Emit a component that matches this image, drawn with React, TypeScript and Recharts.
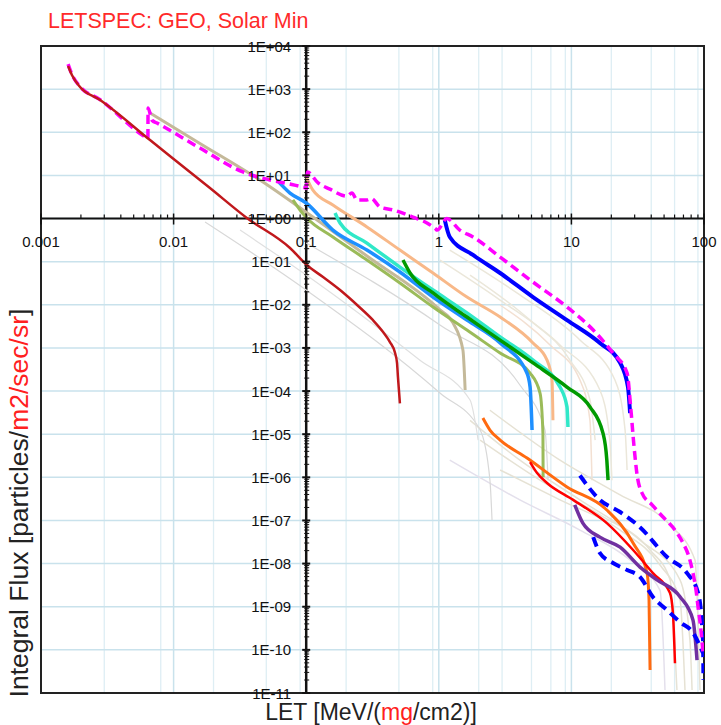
import React from 'react';
import { LineChart, Line, XAxis, YAxis, CartesianGrid, ReferenceLine, ReferenceDot, ReferenceArea } from 'recharts';

type P = [number, number];

const xMajor = [0.001, 0.01, 0.1, 1, 10, 100];
const xMajorLabels = ['0.001', '0.01', '0.1', '1', '10', '100'];
const yMajor = [1e4, 1e3, 1e2, 1e1, 1, 1e-1, 1e-2, 1e-3, 1e-4, 1e-5, 1e-6, 1e-7, 1e-8, 1e-9, 1e-10, 1e-11];
const yMajorLabels = ['1E+04', '1E+03', '1E+02', '1E+01', '1E+00', '1E-01', '1E-02', '1E-03', '1E-04', '1E-05', '1E-06', '1E-07', '1E-08', '1E-09', '1E-10', '1E-11'];
const minorMult = [2, 3, 4, 5, 6, 7, 8, 9];

const darkRed: P[] = [[0.0016, 3440], [0.00171, 2130], [0.00197, 1120], [0.00279, 560], [0.00664, 66], [0.0188, 5.1], [0.0357, 1.03], [0.0755, 0.207], [0.101, 0.0836], [0.134, 0.044], [0.18, 0.022], [0.242, 9.9e-3], [0.319, 4.4e-3], [0.38, 2.34e-3], [0.428, 1.37e-3], [0.468, 7.6e-4], [0.484, 4.5e-4], [0.492, 2.1e-4], [0.509, 5.2e-5]];
const magenta: P[] = [[0.0016, 3800], [0.00171, 2200], [0.00197, 1150], [0.00279, 570], [0.0062, 76], [0.0064, 72], [0.00642, 366], [0.00687, 190], [0.0075, 164], [0.0158, 43], [0.0333, 12], [0.0533, 7.8], [0.0755, 6.3], [0.093, 5.4], [0.099, 5.1], [0.1, 5.0], [0.102, 12], [0.123, 6.7], [0.151, 4.8], [0.203, 3.3], [0.221, 3.9], [0.242, 2.7], [0.287, 2.7], [0.31, 2.9], [0.36, 1.85], [0.452, 1.58], [0.638, 1.08], [0.814, 0.79], [0.95, 0.57], [0.97, 0.54], [1.15, 1.0], [1.44, 0.54], [1.81, 0.373], [2.9, 0.128], [5.13, 0.0337], [9.26, 8.9e-3], [14.6, 2.6e-3], [20.6, 7.6e-4], [26.3, 2.6e-4], [28.1, 3.7e-5], [29.6, 5.6e-6], [31.3, 1.13e-6], [34.1, 4.3e-7], [40.6, 2.3e-7], [49.1, 1.2e-7], [60.4, 6.0e-8], [69.5, 3.0e-8], [77.1, 1.42e-8], [82.6, 6.0e-9], [87.1, 2.4e-9], [90.2, 9.8e-10], [94.8, 2.9e-10], [98.2, 8.5e-11]];
const blue: P[] = [[1.11, 0.92], [1.21, 0.373], [1.81, 0.143], [2.9, 0.0546], [5.13, 0.0151], [9.26, 4.4e-3], [16.4, 1.3e-3], [23.3, 4.5e-4], [26.7, 1.24e-4], [27.7, 3.1e-5]];
const blueDashUpper: P[] = [[11.6, 1.1e-6], [16.4, 3.0e-7], [23.3, 1.57e-7], [32.9, 7.0e-8], [52.6, 1.42e-8], [74.5, 6.0e-9], [90.2, 2.1e-9], [98.2, 1.7e-10], [99, 2e-11]];
const blueDashLower: P[] = [[14.6, 4.1e-8], [16.4, 1.76e-8], [20.6, 1.03e-8], [26.3, 7.1e-9], [32.9, 4.9e-9], [41.2, 1.68e-9], [52.6, 8.4e-10], [65.9, 4.4e-10], [82.6, 2.5e-10], [98.2, 8.5e-11]];
const purple: P[] = [[10.6, 2.3e-7], [12.2, 8.7e-8], [16.4, 4.1e-8], [23.3, 2.4e-8], [32.9, 8.3e-9], [44.2, 4.2e-9], [65.9, 1.7e-9], [82.6, 4.9e-10], [88.6, 5.8e-11]];
const red: P[] = [[4.88, 2.26e-6], [5.51, 1.26e-6], [6.55, 7.4e-7], [10.3, 3.0e-7], [18.5, 8.7e-8], [29.2, 2.07e-8], [41.2, 6.0e-9], [55.3, 2.1e-9], [58.3, 7.1e-10], [60.4, 4.9e-11]];
const orange: P[] = [[2.15, 2.37e-5], [2.43, 1.25e-5], [2.9, 7.3e-6], [4.63, 2.8e-6], [9.26, 6.0e-7], [18.5, 1.75e-7], [29.2, 3.0e-8], [37.2, 6.0e-9], [38.5, 1.43e-9], [39.2, 3.4e-11]];
const green: P[] = [[0.537, 0.109], [0.607, 0.0546], [0.904, 0.0188], [1.63, 5.2e-3], [2.9, 1.52e-3], [5.13, 4.5e-4], [9.26, 1.24e-4], [13.8, 4.3e-5], [17.3, 1.06e-5], [18.5, 2.5e-6], [18.9, 8.6e-7]];
const cyan: P[] = [[0.165, 1.34], [0.18, 0.79], [0.287, 0.27], [0.509, 0.075], [0.904, 0.022], [1.63, 6.5e-3], [2.9, 1.8e-3], [5.13, 5.2e-4], [8.2, 1.24e-4], [9.26, 4.3e-5], [9.42, 1.47e-5]];
const dodger: P[] = [[0.0602, 7.8], [0.0755, 3.9], [0.1, 2.29], [0.159, 0.54], [0.287, 0.186], [0.509, 0.0575], [0.904, 0.0151], [1.63, 4.4e-3], [2.9, 1.3e-3], [4.63, 2.6e-4], [4.88, 1.24e-4], [5.05, 1.25e-5]];
const lightOrange: P[] = [[0.101, 8.7], [0.112, 4.6], [0.159, 2.06], [0.287, 0.64], [0.509, 0.186], [0.904, 0.0546], [1.63, 0.0151], [2.9, 5.2e-3], [5.13, 1.3e-3], [6.55, 5.2e-4], [7.14, 1.8e-4], [7.26, 2.1e-5]];
const olive: P[] = [[0.0794, 2.7], [0.0898, 1.58], [0.101, 1.03], [0.159, 0.373], [0.287, 0.109], [0.509, 0.032], [0.904, 8.9e-3], [1.63, 2.6e-3], [2.9, 7.6e-4], [4.88, 2.6e-4], [5.8, 9.0e-5], [6.1, 1.06e-5], [6.12, 1.0e-6]];
const tan: P[] = [[0.00664, 280], [0.0158, 55], [0.0472, 7.0], [0.1, 1.4], [0.287, 0.135], [1.02, 7.6e-3], [1.28, 3.8e-3], [1.52, 9.0e-4], [1.58, 1.06e-4]];

const faint1: P[] = [[1.02, 0.109], [2.9, 0.0129], [8.2, 1.17e-3], [16.4, 1.06e-4], [19.5, 7.3e-6], [20.2, 8.6e-7]];
const faint2: P[] = [[1.21, 0.186], [4.09, 0.0169], [11.6, 1.52e-3], [21.3, 1.8e-4], [25.4, 1.25e-5], [26.3, 1.48e-6]];
const faint3: P[] = [[1.72, 0.049], [4.88, 4.4e-3], [9.75, 5.2e-4], [13.8, 6.2e-5], [15.1, 7.3e-6]];
const faint4: P[] = [[2.9, 9.9e-3], [6.9, 1.17e-3], [11.6, 1.8e-4], [13.8, 2.1e-5], [14.3, 8.6e-7]];
const faint5: P[] = [[1.72, 2.1e-5], [4.09, 2.5e-6], [11.6, 3.0e-7], [32.9, 3.5e-8], [65.9, 4.2e-9], [78.3, 1.7e-10], [81.3, 1.17e-11]];
const faint6: P[] = [[2.05, 7.3e-6], [5.8, 8.6e-7], [16.4, 1.34e-7], [39.2, 2.07e-8], [55.5, 4.2e-9], [60.4, 9.9e-11], [62.5, 1.17e-11]];
const faint7: P[] = [[2.9, 1.48e-6], [8.2, 3.0e-7], [23.3, 6.0e-8], [46.6, 9.3e-9], [65.9, 1.43e-9], [71.9, 1.17e-11]];
const faint8: P[] = [[1.21, 2.5e-6], [4.09, 3.0e-7], [11.6, 6.0e-8], [27.7, 1.21e-8], [46.6, 2.4e-9], [50.8, 1.17e-11]];
const faint9: P[] = [[2.43, 3.6e-5], [8.2, 2.5e-6], [23.3, 3.9e-7], [55.5, 7.8e-8], [85.5, 1.21e-8], [93.3, 1.17e-11]];
const gray1: P[] = [[0.01726, 0.83], [0.1, 0.022], [1.02, 9.0e-5], [2.05, 1.25e-5], [2.43, 8.6e-7], [2.52, 1.02e-7]];
const gray2: P[] = [[0.1, 0.27], [1.02, 3.4e-3], [4.09, 1.38e-4], [6.32, 1.25e-5], [6.67, 8.6e-7]];
const gray3: P[] = [[0.0317, 0.54], [0.1, 0.049], [0.721, 5.2e-4], [1.72, 6.2e-5], [1.98, 7.3e-6]];

const toRows = (a: P[]) => a.map(([x, y]) => ({ x, y }));

const xMinor = xMajor.slice(0, -1).flatMap((d) => minorMult.map((m) => d * m));
const yMinor = yMajor.slice(1).flatMap((d) => minorMult.map((m) => d * m));

const AX = '#111';
const FONT = '"Liberation Sans", Arial, sans-serif';

const xMajorShape = (label: string) => (props: any) => {
  const { cx, cy } = props;
  return (
    <g>
      <line x1={cx} x2={cx} y1={cy - 5} y2={cy + 6} stroke={AX} strokeWidth={1.5} />
      <text x={cx} y={cy + 28} textAnchor="middle" fontSize={15} fill={AX} fontFamily={FONT}>{label}</text>
    </g>
  );
};
const xMinorShape = (props: any) => {
  const { cx, cy } = props;
  return <line x1={cx} x2={cx} y1={cy - 4} y2={cy} stroke={AX} strokeWidth={1.2} />;
};
const yMajorShape = (label: string) => (props: any) => {
  const { cx, cy } = props;
  return (
    <g>
      <line x1={cx - 4} x2={cx + 4} y1={cy} y2={cy} stroke={AX} strokeWidth={2} />
      <text x={cx - 15} y={cy + 5.5} textAnchor="end" fontSize={15} fill={AX} fontFamily={FONT}>{label}</text>
    </g>
  );
};
const yMinorShape = (props: any) => {
  const { cx, cy } = props;
  return <line x1={cx - 2} x2={cx + 3} y1={cy} y2={cy} stroke={AX} strokeWidth={1} />;
};

const series: { d: P[]; c: string; w: number; dash?: string }[] = [
  { d: faint1, c: '#ebe7da', w: 1.5 },
  { d: faint2, c: '#ebe7da', w: 1.5 },
  { d: faint3, c: '#ebe7da', w: 1.5 },
  { d: faint4, c: '#f3e0d2', w: 1.5 },
  { d: faint5, c: '#e6e2d4', w: 1.5 },
  { d: faint6, c: '#e6e2d4', w: 1.5 },
  { d: faint7, c: '#e6e2d4', w: 1.5 },
  { d: faint8, c: '#e4e0ec', w: 1.5 },
  { d: faint9, c: '#e6e2d4', w: 1.5 },
  { d: gray1, c: '#d8d8d8', w: 1.2 },
  { d: gray2, c: '#d8d8d8', w: 1.2 },
  { d: gray3, c: '#e0e0e0', w: 1.2 },
  { d: tan, c: '#c4b999', w: 3 },
  { d: olive, c: '#9bbb59', w: 3 },
  { d: lightOrange, c: '#f8b888', w: 3 },
  { d: dodger, c: '#1e90ff', w: 3.5 },
  { d: cyan, c: '#30e8c8', w: 3.5 },
  { d: green, c: '#009a00', w: 3.5 },
  { d: orange, c: '#ff6a10', w: 3 },
  { d: red, c: '#ff0000', w: 2.5 },
  { d: purple, c: '#7030a0', w: 3.5 },
  { d: blue, c: '#0000ff', w: 4 },
  { d: blueDashUpper, c: '#0000ff', w: 4, dash: '10 6' },
  { d: blueDashLower, c: '#0000ff', w: 4, dash: '10 6' },
  { d: magenta, c: '#ff00ff', w: 3.5, dash: '9 5' },
  { d: darkRed, c: '#c0181c', w: 2.5 },
];

export default function App() {
  return (
    <div style={{ position: 'absolute', left: 0, top: 0, width: 721, height: 725, background: '#fff' }}>
      <LineChart width={721} height={725} margin={{ top: 46, right: 17, bottom: 32, left: 41 }}>
        <XAxis type="number" dataKey="x" scale="log" domain={[0.001, 100]} allowDataOverflow hide />
        <YAxis type="number" dataKey="y" scale="log" domain={[1e-11, 1e4]} allowDataOverflow hide />
        <CartesianGrid horizontal={false} verticalValues={xMinor} stroke="#deeef4" strokeWidth={1.3} />
        <CartesianGrid verticalValues={xMajor} horizontalValues={yMajor} stroke="#c9e2ec" strokeWidth={1.5} />
        <ReferenceLine y={1} stroke={AX} strokeWidth={2} ifOverflow="visible" />
        <ReferenceLine x={0.1} stroke={AX} strokeWidth={2.5} ifOverflow="visible" />
        {series.map((s, i) => (
          <Line
            key={i}
            data={toRows(s.d)}
            dataKey="y"
            type="monotone"
            stroke={s.c}
            strokeWidth={s.w}
            strokeDasharray={s.dash}
            dot={false}
            activeDot={false}
            isAnimationActive={false}
          />
        ))}
        {xMinor.map((v) => (
          <ReferenceDot key={'xm' + v} x={v} y={1} r={0} ifOverflow="visible" shape={xMinorShape} />
        ))}
        {yMinor.map((v) => (
          <ReferenceDot key={'ym' + v} x={0.1} y={v} r={0} ifOverflow="visible" shape={yMinorShape} />
        ))}
        {xMajor.map((v, i) => (
          <ReferenceDot key={'xM' + v} x={v} y={1} r={0} ifOverflow="visible" shape={xMajorShape(xMajorLabels[i])} />
        ))}
        {yMajor.map((v, i) => (
          <ReferenceDot key={'yM' + v} x={0.1} y={v} r={0} ifOverflow="visible" shape={yMajorShape(yMajorLabels[i])} />
        ))}
        <ReferenceArea x1={0.001} x2={100} y1={1e-11} y2={1e4} fill="none" fillOpacity={0} stroke="#222" strokeWidth={2} ifOverflow="visible" />
      </LineChart>
      <svg width={721} height={725} style={{ position: 'absolute', left: 0, top: 0, pointerEvents: 'none' }}>
        <text x={48} y={28} fontSize={21.5} fill="#ff2a2a" fontFamily={FONT}>LETSPEC: GEO, Solar Min</text>
        <text x={371} y={720} textAnchor="middle" fontSize={23} fill="#222" fontFamily={FONT}>
          LET [MeV/(<tspan fill="#ff2020">mg</tspan>/cm2)]
        </text>
        <text x={28} y={503} textAnchor="middle" fontSize={26.5} fill="#222" fontFamily={FONT} transform="rotate(-90, 28, 503)">
          Integral Flux [particles/<tspan fill="#ff2020">m2/sec/sr</tspan>]
        </text>
      </svg>
    </div>
  );
}
